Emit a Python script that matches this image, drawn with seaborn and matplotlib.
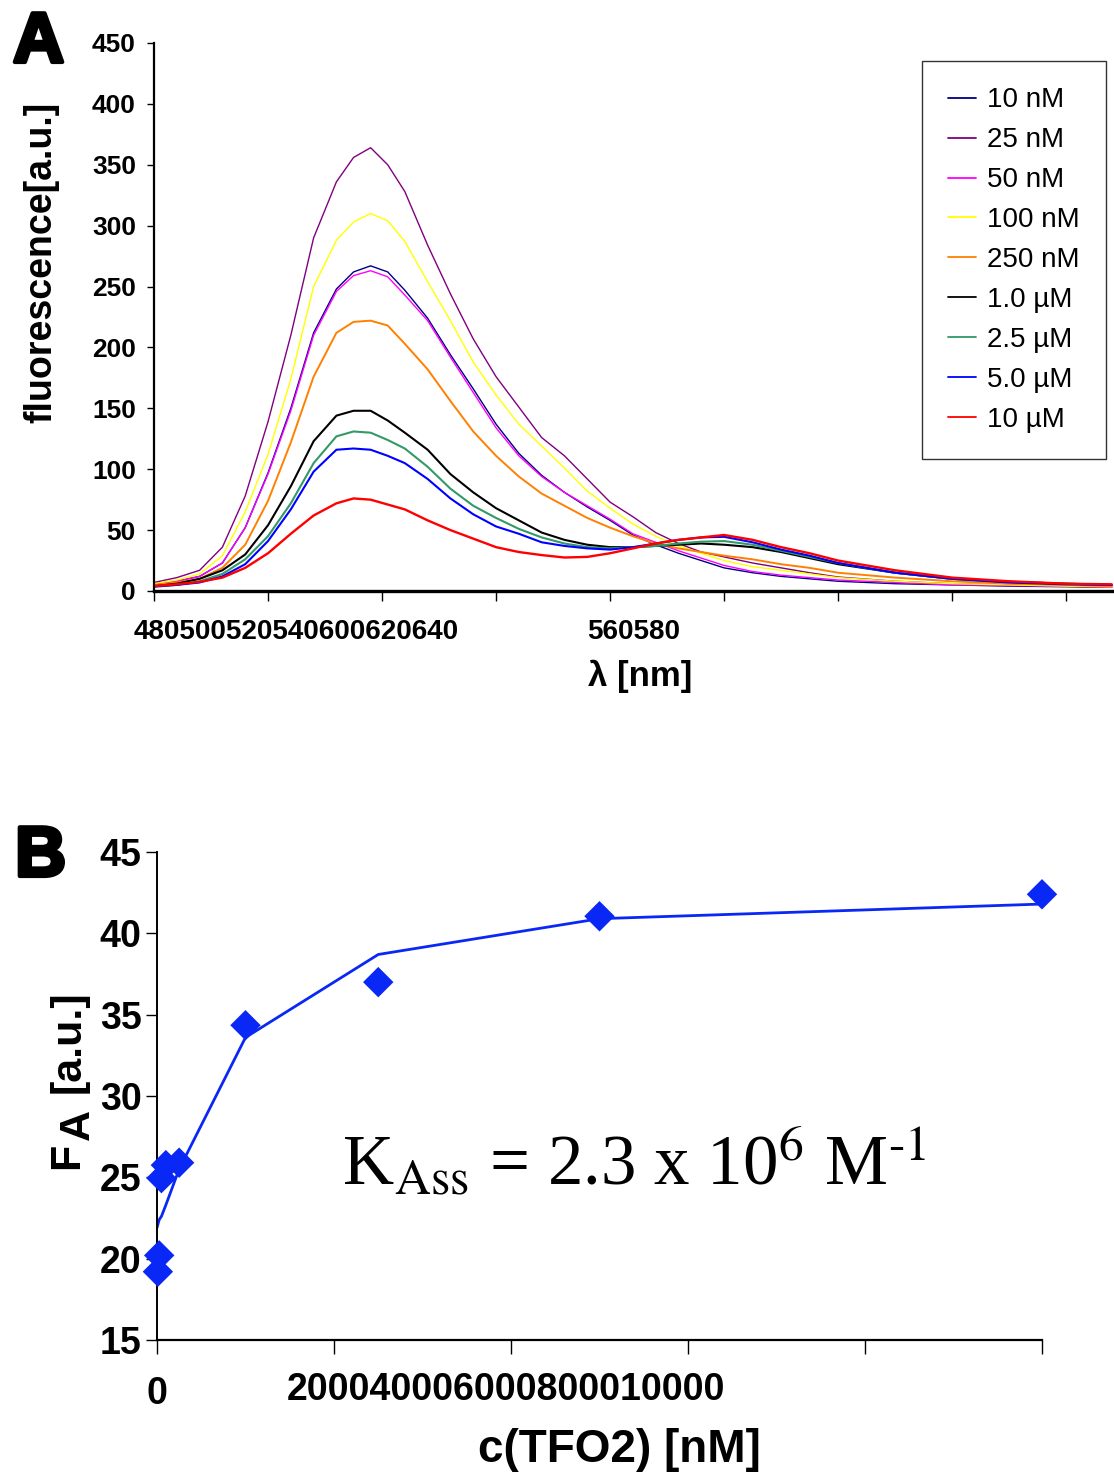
import matplotlib
matplotlib.use("Agg")
import matplotlib.pyplot as plt
import matplotlib.patheffects as pe
import matplotlib.transforms as mtransforms
import numpy as np
import pandas as pd
import seaborn as sns

# panel A: emission spectra
wavelengths = [480, 484, 488, 492, 496, 500, 504, 508, 512, 515, 518, 521, 524, 528, 532, 536,
               540, 544, 548, 552, 556, 560, 564, 568, 572, 576, 580, 585, 590, 595, 600, 610,
               620, 630, 640, 648]
nm_10 = [6, 8, 12, 23, 52, 97, 150, 212, 248, 262, 267, 262, 247, 224, 194, 166,
         137, 113, 95, 81, 69, 58, 46, 38, 31, 25, 19, 15, 12, 10, 8, 6, 5, 4, 3.5, 3]
nm_25 = [7, 11, 17, 36, 78, 139, 210, 290, 336, 356, 364, 350, 328, 284, 244, 207,
         176, 151, 126, 111, 92, 73, 61, 48, 39, 32, 28, 23, 19, 15, 11.5, 8, 6, 5, 4, 3.5]
nm_50 = [6, 8, 12, 23, 52, 96, 148, 210, 246, 259, 263, 258, 243, 222, 192, 163,
         134, 111, 94, 81, 70, 59, 47, 40, 33, 27, 21, 16, 13, 11, 9, 7, 5, 4.5, 4, 3]
nm_100 = [6, 9, 14, 29, 65, 112, 174, 250, 288, 303, 310, 304, 287, 254, 222, 188,
          161, 137, 119, 101, 82, 68, 55, 45, 37, 31, 25, 20, 17, 14, 11, 8, 6, 5, 4, 3.5]
nm_250 = [5, 7, 10, 19, 38, 74, 122, 176, 212, 221, 222, 218, 203, 182, 156, 131,
          111, 94, 80, 70, 60, 52, 45, 39, 35, 32, 29, 26, 22, 19, 15, 11, 8, 6, 5, 4]
um_1 = [4, 6, 10, 17, 30, 54, 86, 123, 144, 148, 148, 140, 130, 116, 96, 81,
        68, 58, 48, 42, 38, 36, 36, 37, 38, 39, 38, 36, 32, 27, 22, 15, 10, 7.5, 6, 5]
um_2_5 = [4, 5, 8, 14, 26, 45, 72, 105, 127, 131, 130, 124, 117, 102, 84, 70,
          60, 51, 44, 39, 36, 35, 36, 37, 39, 40.5, 41, 38, 33, 28, 23, 15, 10, 7.5, 6, 5]
um_5 = [3.5, 5, 7, 12, 22, 41, 67, 98, 116, 117, 116, 111, 105, 92, 76, 63,
        53, 47, 40, 37, 35, 34, 36, 39, 42, 44, 44.5, 40, 34, 29, 23, 15, 10, 7, 5.5, 5]
um_10 = [4, 5.5, 7.5, 11, 19, 31, 47, 62, 72, 76, 75, 71, 67, 58, 50, 43,
         36, 32, 29.5, 27.5, 28, 31, 35, 39, 42, 44, 46, 42, 36, 31, 25, 17, 11, 8, 6, 5.5]

series_labels = ["10 nM", "25 nM", "50 nM", "100 nM", "250 nM",
                 "1.0 µM", "2.5 µM", "5.0 µM", "10 µM"]
series_values = [nm_10, nm_25, nm_50, nm_100, nm_250, um_1, um_2_5, um_5, um_10]
series_colors = ["#000080", "#800080", "#FF00FF", "#FFFF00", "#FF8000",
                 "#000000", "#339966", "#0000FF", "#FF0000"]
series_widths = [1.0, 1.0, 1.0, 1.0, 1.4, 1.5, 1.5, 1.5, 1.7]

y_ticks_a = [0, 50, 100, 150, 200, 250, 300, 350, 400, 450]
x_ticks_a = [480, 500, 520, 540, 560, 580, 600, 620, 640]

# panel B: titration
conc_nm = [10, 25, 50, 100, 250, 1000, 2500, 5000, 10000]
fa_measured = [19.2, 20.2, 24.95, 25.75, 25.9, 34.35, 37.0, 41.05, 42.4]
fit_conc = [0, 10, 25, 50, 100, 250, 1000, 2500, 5000, 10000]
fit_values = [21.9, 22.1, 22.4, 22.6, 23.3, 25.5, 33.6, 38.7, 40.9, 41.8]
x_ticks_b = [0, 2000, 4000, 6000, 8000, 10000]
y_ticks_b = [15, 20, 25, 30, 35, 40, 45]

sns.set_theme(style="white")
plt.rcParams["font.family"] = ["Liberation Sans", "DejaVu Sans"]
for key in ["text.color", "axes.labelcolor", "xtick.color", "ytick.color", "axes.edgecolor"]:
    plt.rcParams[key] = "black"

fig = plt.figure(figsize=(11.14, 14.77), dpi=100)
W, H = 1114, 1477

# ---------------- panel A ----------------
ax_a = fig.add_axes([154 / W, 1 - 591 / H, 960 / W, 548 / H])
spectra = pd.DataFrame({"wavelength": wavelengths})
for label, values, color, lw in zip(series_labels, series_values, series_colors, series_widths):
    spectra[label] = values
    sns.lineplot(data=spectra, x="wavelength", y=label, ax=ax_a, color=color,
                 linewidth=lw, label=label)

ax_a.set_xlim(480, 648.4)
ax_a.set_ylim(0, 450)
ax_a.set_yticks(y_ticks_a)
ax_a.set_yticklabels([str(v) for v in y_ticks_a], fontsize=19, fontweight="bold")
ax_a.set_xticks(x_ticks_a)
ax_a.set_xticklabels([""] * len(x_ticks_a))
ax_a.tick_params(axis="y", left=True, direction="out", length=5, width=1, pad=8)
ax_a.tick_params(axis="x", bottom=True, direction="out", length=7, width=1)
for side in ["top", "right"]:
    ax_a.spines[side].set_visible(False)
ax_a.spines["left"].set_linewidth(1.6)
ax_a.spines["bottom"].set_linewidth(2.4)

trans_a = mtransforms.blended_transform_factory(ax_a.transData, ax_a.transAxes)
ax_a.text(504.9, -0.075, "480500520540600620640", transform=trans_a, ha="center",
          va="center", fontsize=20, fontweight="bold")
ax_a.text(564.2, -0.075, "560580", transform=trans_a, ha="center", va="center",
          fontsize=20, fontweight="bold")

ax_a.set_xlabel("λ [nm]", fontsize=25, fontweight="bold")
ax_a.xaxis.label.set_va("center")
ax_a.xaxis.set_label_coords(0.506, -0.155)
ax_a.set_ylabel("fluorescence[a.u.]", fontsize=27, fontweight="bold")
ax_a.yaxis.label.set_va("center")
ax_a.yaxis.set_label_coords(-0.117, 0.600)

leg = ax_a.legend(loc="upper right", bbox_to_anchor=(0.9917, 0.967), borderaxespad=0,
                  fontsize=20, frameon=True, fancybox=False, handlelength=1.0,
                  handletextpad=0.4, labelspacing=0.5, borderpad=0.95)
leg.get_frame().set_edgecolor("black")
leg.get_frame().set_linewidth(1.0)
for line in leg.get_lines():
    line.set_linewidth(1.3)

# ---------------- panel B ----------------
ax_b = fig.add_axes([157 / W, 1 - 1340 / H, 885 / W, 488 / H])
sns.lineplot(x=fit_conc, y=fit_values, ax=ax_b, color="#0A28F5", linewidth=2.0)
sns.scatterplot(x=conc_nm, y=fa_measured, ax=ax_b, marker="D", s=240, color="#0A28F5",
                edgecolor="none", clip_on=False, zorder=3)

ax_b.set_xlim(0, 10000)
ax_b.set_ylim(15, 45)
ax_b.set_yticks(y_ticks_b)
ax_b.set_yticklabels([str(v) for v in y_ticks_b], fontsize=27, fontweight="bold")
ax_b.set_xticks(x_ticks_b)
ax_b.set_xticklabels(["0", "", "", "", "", ""], fontsize=27, fontweight="bold")
ax_b.tick_params(axis="y", left=True, direction="out", length=8, width=1, pad=3)
ax_b.tick_params(axis="x", bottom=True, direction="out", length=10, width=1, pad=16)
for side in ["top", "right"]:
    ax_b.spines[side].set_visible(False)
ax_b.spines["left"].set_linewidth(1.4)
ax_b.spines["bottom"].set_linewidth(1.6)

trans_b = mtransforms.blended_transform_factory(ax_b.transData, ax_b.transAxes)
ax_b.text(3944, -0.102, "200040006000800010000", transform=trans_b, ha="center",
          va="center", fontsize=27, fontweight="bold")

ax_b.set_xlabel("c(TFO2) [nM]", fontsize=33, fontweight="bold")
ax_b.xaxis.label.set_va("center")
ax_b.xaxis.set_label_coords(0.523, -0.225)

# y label of B: "F" with a lowered "A", then "[a.u.]"
ylab_kw = dict(rotation=90, rotation_mode="anchor", ha="left", va="baseline",
               fontsize=31, fontweight="bold")
fig.text(78 / W, 1 - 1169 / H, "F", **ylab_kw)
fig.text(89 / W, 1 - 1140 / H, "A", **ylab_kw)
fig.text(80 / W, 1 - 1093 / H, "[a.u.]", **ylab_kw)

k_text = ax_b.text(2090, 24.5, "K$_{\\mathrm{Ass}}$ = 2.3 x 10$^{6}$ M$^{\\mathrm{\u2010}1}$",
                   fontsize=51, family="Liberation Serif", va="baseline", ha="left")
k_text.set_math_fontfamily("stix")

# panel letters (stroked to look like a black-weight face)
heavy = [pe.withStroke(linewidth=3, foreground="black")]
fig.text(13 / W, 1 - 11 / H, "A", fontsize=51, fontweight="bold", ha="left", va="top",
         path_effects=heavy)
fig.text(15 / W, 1 - 825 / H, "B", fontsize=51, fontweight="bold", ha="left", va="top",
         path_effects=heavy)

fig.savefig("out.png", dpi=100, facecolor="white")
